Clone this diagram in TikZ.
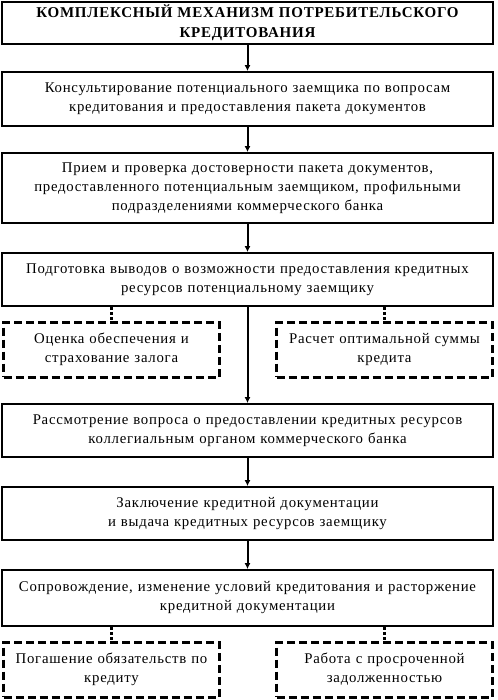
\documentclass[tikz,border=0pt]{standalone}
\usepackage{fontspec}
\setmainfont[LetterSpace=5]{Liberation Serif}
\usetikzlibrary{arrows.meta}
\begin{document}
\begin{tikzpicture}[x=1pt, y=-1pt, >={Latex[length=6pt,width=6pt]},
  stage/.style={draw, rectangle, line width=1.8pt, minimum width=490pt, text width=484pt, align=center, font=\fontsize{14.8}{19}\selectfont},
  option/.style={draw, rectangle, dash pattern=on 8pt off 4pt, line width=3pt, minimum width=215pt, minimum height=55pt, text width=209pt, align=center, font=\fontsize{14.8}{19}\selectfont},
  link/.style={line width=2pt},
  dots/.style={line width=3pt, dash pattern=on 3pt off 2pt}]
\useasboundingbox (0,0) rectangle (497,700);
\node[stage, minimum height=42pt, font=\bfseries\fontsize{15}{20}\selectfont] (title) at (247.5, 23) {КОМПЛЕКСНЫЙ МЕХАНИЗМ ПОТРЕБИТЕЛЬСКОГО\\ КРЕДИТОВАНИЯ};
\node[stage, minimum height=54pt] (consult) at (247.5, 99) {Консультирование потенциального заемщика по вопросам\\ кредитования и предоставления пакета документов};
\node[stage, minimum height=70pt] (check) at (247.5, 188) {Прием и проверка достоверности пакета документов,\\ предоставленного потенциальным заемщиком, профильными\\ подразделениями коммерческого банка};
\node[stage, minimum height=53pt] (prepare) at (247.5, 279.5) {Подготовка выводов о возможности предоставления кредитных\\ ресурсов потенциальному заемщику};
\node[option] (pledge) at (111.5, 349.5) {Оценка обеспечения и\\ страхование залога};
\node[option] (amount) at (384.5, 349.5) {Расчет оптимальной суммы\\ кредита};
\node[stage, minimum height=53pt] (review) at (247.5, 430.5) {Рассмотрение вопроса о предоставлении кредитных ресурсов\\ коллегиальным органом коммерческого банка};
\node[stage, minimum height=53pt] (contract) at (247.5, 513.5) {Заключение кредитной документации\\ и выдача кредитных ресурсов заемщику};
\node[stage, minimum height=56pt] (support) at (247.5, 598) {Сопровождение, изменение условий кредитования и расторжение\\ кредитной документации};
\node[option] (repay) at (111.5, 669.5) {Погашение обязательств по\\ кредиту};
\node[option] (overdue) at (384.5, 669.5) {Работа с просроченной\\ задолженностью};
\draw[link, ->] (title) -- (consult);
\draw[link, ->] (consult) -- (check);
\draw[link, ->] (check) -- (prepare);
\draw[link, ->] (prepare) -- (review);
\draw[link, ->] (review) -- (contract);
\draw[link, ->] (contract) -- (support);
\draw[dots] (prepare.south -| pledge) -- (pledge);
\draw[dots] (prepare.south -| amount) -- (amount);
\draw[dots] (support.south -| repay) -- (repay);
\draw[dots] (support.south -| overdue) -- (overdue);
\end{tikzpicture}
\end{document}
